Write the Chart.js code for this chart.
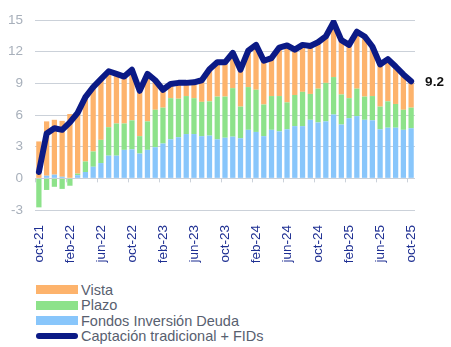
<!DOCTYPE html>
<html>
<head>
<meta charset="utf-8">
<script src="https://cdn.jsdelivr.net/npm/chart.js@4.4.1/dist/chart.umd.min.js"></script>
<style>
    html, body { margin: 0; padding: 0; background: #fff; }
    body { width: 451px; height: 347px; position: relative; overflow: hidden; font-family: "Liberation Sans", Arial, sans-serif; }
    #wrap { position: absolute; left: 0; top: 0; width: 451px; height: 275px; }
    #legend { position: absolute; left: 36px; top: 282px; }
    .item { height: 15.5px; display: flex; align-items: center; font-size: 14.5px; color: #58606f; }
    .sw { width: 42px; height: 9px; margin-right: 3px; }
    .sw.line { height: 6px; border-radius: 3px; }
</style>
</head>
<body>
<div id="wrap"><canvas id="captChart"></canvas></div>
<div id="legend"></div>

<script>
// Monthly series, oct-21 .. oct-25
const months = [
    'oct-21','nov-21','dic-21','ene-22','feb-22','mar-22','abr-22','may-22','jun-22','jul-22','ago-22','sep-22',
    'oct-22','nov-22','dic-22','ene-23','feb-23','mar-23','abr-23','may-23','jun-23','jul-23','ago-23','sep-23',
    'oct-23','nov-23','dic-23','ene-24','feb-24','mar-24','abr-24','may-24','jun-24','jul-24','ago-24','sep-24',
    'oct-24','nov-24','dic-24','ene-25','feb-25','mar-25','abr-25','may-25','jun-25','jul-25','ago-25','sep-25',
    'oct-25'
];

// axis labels shown every fourth month
const tickLabels = ['oct-21','feb-22','jun-22','oct-22','feb-23','jun-23','oct-23','feb-24','jun-24','oct-24','feb-25','jun-25','oct-25'];

const fondosDeuda = [
    0.00, 0.25, 0.35, 0.15, 0.05, 0.30, 0.60, 1.10, 1.45, 2.15, 2.15, 2.70,
    2.75, 2.35, 2.70, 2.95, 3.30, 3.70, 3.90, 4.20, 4.20, 4.00, 4.05, 3.70,
    3.85, 3.95, 3.80, 4.60, 4.40, 4.00, 4.60, 4.45, 4.65, 4.95, 4.95, 5.55,
    5.30, 5.40, 6.05, 5.10, 5.70, 5.90, 5.55, 5.50, 4.65, 4.80, 4.80, 4.60,
    4.75
];

const plazo = [
    -2.75, -1.10, -0.80, -1.00, -0.70, 0.15, 1.00, 1.45, 2.20, 2.70, 3.05, 2.50,
    2.75, 1.65, 2.70, 3.55, 3.40, 3.90, 3.65, 3.60, 3.40, 3.25, 3.25, 4.05,
    3.90, 4.60, 3.00, 4.05, 4.00, 3.00, 3.20, 3.35, 2.55, 2.95, 3.25, 2.45,
    3.20, 3.65, 3.55, 2.85, 1.90, 2.60, 2.20, 2.30, 2.15, 2.50, 2.25, 1.90,
    1.95
];

const vista = [
    3.50, 5.15, 5.20, 5.30, 6.05, 5.65, 5.95, 6.10, 5.75, 5.30, 4.70, 4.45,
    4.80, 4.30, 4.50, 2.80, 1.70, 1.35, 1.50, 1.25, 1.50, 1.95, 3.10, 3.25,
    3.25, 3.35, 3.50, 3.45, 4.25, 4.15, 3.60, 4.60, 5.40, 4.30, 4.45, 4.55,
    4.40, 4.40, 5.20, 5.15, 5.05, 5.40, 5.70, 4.70, 4.00, 4.00, 3.55, 3.35,
    2.45
];

const captacionTotal = [
    0.60, 4.25, 4.75, 4.60, 5.30, 6.20, 7.70, 8.65, 9.40, 10.15, 9.90, 9.65,
    10.30, 8.30, 9.90, 9.30, 8.40, 8.95, 9.05, 9.05, 9.10, 9.30, 10.35, 11.00,
    11.00, 11.90, 10.30, 12.10, 12.65, 11.15, 11.40, 12.40, 12.60, 12.20, 12.65, 12.55,
    12.90, 13.45, 14.80, 13.10, 12.65, 13.90, 13.45, 12.50, 10.80, 11.30, 10.60, 9.85,
    9.20
];

const C_VISTA = '#fdb36c';
const C_PLAZO = '#8de28a';
const C_FONDOS = '#88c6fb';
const C_LINE = '#0b1a86';
const GRID = '#cbd1d9';

// small tick marks on the zero line, at the left edge of every fourth month
const zeroTicks = {
    id: 'zeroTicks',
    afterDatasetsDraw(chart) {
        const x = chart.scales.x, y = chart.scales.y;
        const y0 = y.getPixelForValue(0);
        const half = (x.getPixelForValue(1) - x.getPixelForValue(0)) / 2;
        const c = chart.ctx;
        c.save();
        c.strokeStyle = GRID;
        c.lineWidth = 1;
        months.forEach((m, i) => {
            if (i % 4 !== 0) return;
            const px = Math.round(x.getPixelForValue(i) - half) + 0.5;
            c.beginPath();
            c.moveTo(px, y0);
            c.lineTo(px, y0 + 4);
            c.stroke();
        });
        c.restore();
    }
};

// value label after the last point of the line
const lastValue = {
    id: 'lastValue',
    afterDatasetsDraw(chart) {
        const meta = chart.getDatasetMeta(3);
        const pt = meta.data[meta.data.length - 1];
        const c = chart.ctx;
        c.save();
        c.font = 'bold 13.5px "Liberation Sans", Arial, sans-serif';
        c.fillStyle = '#111';
        c.textBaseline = 'middle';
        c.fillText(captacionTotal[captacionTotal.length - 1].toFixed(1), pt.x + 14, pt.y + 1);
        c.restore();
    }
};

const barCommon = { stack: 'bars', order: 1, barPercentage: 0.68, categoryPercentage: 1 };

new Chart(document.getElementById('captChart'), {
    type: 'bar',
    data: {
        labels: months,
        datasets: [
            { ...barCommon, label: 'Fondos Inversión Deuda', data: fondosDeuda, backgroundColor: C_FONDOS },
            { ...barCommon, label: 'Plazo', data: plazo, backgroundColor: C_PLAZO },
            { ...barCommon, label: 'Vista', data: vista, backgroundColor: C_VISTA },
            {
                type: 'line',
                label: 'Captación tradicional + FIDs',
                data: captacionTotal,
                stack: 'line',
                order: 0,
                borderColor: C_LINE,
                borderWidth: 6,
                borderJoinStyle: 'round',
                borderCapStyle: 'round',
                pointRadius: 0,
                tension: 0,
                fill: false
            }
        ]
    },
    options: {
        responsive: true,
        maintainAspectRatio: false,
        animation: false,
        layout: { padding: { top: 18, right: 36, left: 0, bottom: 0 } },
        plugins: { legend: { display: false }, tooltip: { enabled: false } },
        scales: {
            x: {
                stacked: true,
                grid: { display: false },
                border: { display: false },
                afterFit(scale) { scale.height = 65; },
                ticks: {
                    autoSkip: false,
                    maxRotation: 90,
                    minRotation: 90,
                    padding: 7,
                    color: '#1e2f92',
                    font: { family: '"Liberation Sans", Arial, sans-serif', size: 13.5 },
                    callback: (v, i) => tickLabels.includes(months[i]) ? months[i] : ''
                }
            },
            y: {
                stacked: true,
                min: -3,
                max: 15,
                grid: { color: GRID, lineWidth: 1, drawTicks: false },
                border: { display: false },
                afterFit(scale) { scale.width = 35; },
                ticks: {
                    stepSize: 3,
                    padding: 12,
                    color: '#a8b0bb',
                    font: { family: '"Liberation Sans", Arial, sans-serif', size: 13.5 }
                }
            }
        }
    },
    plugins: [zeroTicks, lastValue]
});

// legend list below the chart
const legendItems = [
    { label: 'Vista', color: C_VISTA },
    { label: 'Plazo', color: C_PLAZO },
    { label: 'Fondos Inversión Deuda', color: C_FONDOS },
    { label: 'Captación tradicional + FIDs', color: C_LINE, line: true }
];
const legend = document.getElementById('legend');
legendItems.forEach(it => {
    const row = document.createElement('div');
    row.className = 'item';
    const sw = document.createElement('span');
    sw.className = it.line ? 'sw line' : 'sw';
    sw.style.background = it.color;
    row.appendChild(sw);
    row.appendChild(document.createTextNode(it.label));
    legend.appendChild(row);
});
</script>
</body>
</html>
